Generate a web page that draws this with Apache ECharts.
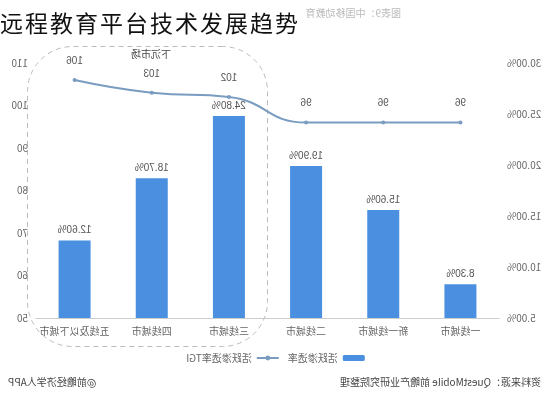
<!DOCTYPE html>
<html>
<head>
<meta charset="utf-8">
<style>
  body { margin: 0; background: #fff; }
  #chart { width: 551px; height: 400px; transform: scaleX(-1); }
  #title { position: absolute; left: 0; top: 5px; font: 23px "Noto Sans CJK SC"; letter-spacing: 2px; color: #111; }
</style>
</head>
<body>
<div id="chart"></div>
<div id="title">远程教育平台技术发展趋势</div>
<script src="https://cdn.jsdelivr.net/npm/echarts@6/dist/echarts.min.js"></script>
<script>
var cities = ['一线城市', '新一线城市', '二线城市', '三线城市', '四线城市', '五线及以下城市'];
var rate = [8.30, 15.60, 19.90, 24.80, 18.70, 12.60];
var tgi = [96, 96, 96, 102, 103, 106];

var chart = echarts.init(document.getElementById('chart'));
var txt = { color: '#666', fontFamily: 'Noto Sans CJK SC', fontSize: 10 };
chart.setOption({
  animation: false,
  grid: { left: 52, right: 36, top: 63, bottom: 82 },
  legend: {
    bottom: 32, left: 'center', itemWidth: 22, itemHeight: 6,
    textStyle: txt,
    data: ['活跃渗透率', '活跃渗透率TGI']
  },
  graphic: [
    { type: 'rect', left: 281, top: 44, shape: { width: 240, height: 300, r: 45 },
      style: { fill: 'none', stroke: '#bbb', lineDash: [5, 4], lineWidth: 1 } },
    { type: 'text', left: 380, top: 49, style: { text: '下沉市场', fill: '#444', font: '10px "Noto Sans CJK SC"' } },
    { type: 'text', left: 10, top: 377, style: { text: '资料来源：QuestMobile 前瞻产业研究院整理', fill: '#444', font: '10px "Noto Sans CJK SC"' } },
    { type: 'text', right: 8, top: 377, style: { text: '@前瞻经济学人APP', fill: '#444', font: '10px "Noto Sans CJK SC"' } },
    { type: 'text', left: 150, top: 8, style: { text: '图表9：中国移动教育', fill: '#bbb', font: '10px "Noto Sans CJK SC"' } }
  ],
  xAxis: {
    type: 'category', data: cities,
    axisLine: { lineStyle: { color: '#ccc' } }, axisTick: { show: false },
    axisLabel: Object.assign({ interval: 0 }, txt)
  },
  yAxis: [
    { type: 'value', min: 5, max: 30, interval: 5, splitLine: { show: false },
      axisLabel: Object.assign({ formatter: function (v) { return v.toFixed(2) + '%'; } }, txt) },
    { type: 'value', min: 50, max: 110, interval: 10, splitLine: { show: false },
      axisLabel: txt }
  ],
  series: [
    { name: '活跃渗透率', type: 'bar', data: rate, barWidth: 32,
      itemStyle: { color: '#4a8fe0' },
      label: { show: true, position: 'top', color: '#555', fontSize: 10,
        formatter: function (p) { return p.value.toFixed(2) + '%'; } } },
    { name: '活跃渗透率TGI', type: 'line', yAxisIndex: 1, data: tgi, smooth: true,
      symbol: 'circle', symbolSize: 4,
      itemStyle: { color: '#7a9cc0' }, lineStyle: { color: '#7a9cc0', width: 2 },
      label: { show: true, position: 'top', distance: 12, color: '#555', fontSize: 10 } }
  ]
});
</script>
</body>
</html>
